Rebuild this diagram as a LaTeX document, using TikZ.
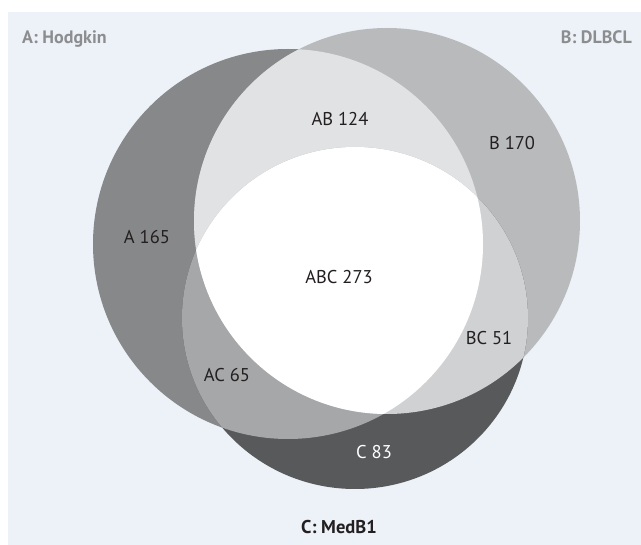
\documentclass[tikz,border=0pt]{standalone}
\usepackage{fontspec}
\setmainfont{PT Sans}
\definecolor{bg}{HTML}{EDF1F8}
\definecolor{cA}{HTML}{87888A}
\definecolor{cB}{HTML}{B9BABC}
\definecolor{cC}{HTML}{58595B}
\definecolor{cAB}{HTML}{E1E2E4}
\definecolor{cAC}{HTML}{A6A7A9}
\definecolor{cBC}{HTML}{D0D1D3}
\definecolor{txt}{HTML}{231F20}
\definecolor{hdrgray}{HTML}{8C8D8F}
\begin{document}
\begin{tikzpicture}[x=1pt,y=-1pt,
  lbl/.style={font=\fontsize{18.5}{20}\selectfont, text=txt, inner sep=0pt, anchor=base},
  hdr/.style={font=\fontsize{18}{20}\selectfont\bfseries, inner sep=0pt}]
\useasboundingbox (0,0) rectangle (641,545);
\fill[white] (0,0) rectangle (641,545);
\fill[bg] (8,12) rectangle (641,545);
% single sets
\fill[cA] (288,244) circle[radius=195];
\fill[cB] (387,221) circle[radius=193];
\fill[cC] (355,318) ellipse[x radius=173, y radius=171];
% pairwise
\begin{scope}
  \clip (288,244) circle[radius=195];
  \fill[cAB] (387,221) circle[radius=193];
\end{scope}
\begin{scope}
  \clip (288,244) circle[radius=195];
  \fill[cAC] (355,318) ellipse[x radius=173, y radius=171];
\end{scope}
\begin{scope}
  \clip (387,221) circle[radius=193];
  \fill[cBC] (355,318) ellipse[x radius=173, y radius=171];
\end{scope}
% triple
\begin{scope}
  \clip (288,244) circle[radius=195];
  \clip (387,221) circle[radius=193];
  \fill[white] (355,318) ellipse[x radius=173, y radius=171];
\end{scope}
% labels
\node[hdr, text=hdrgray, anchor=base west] (hA) at (22,44) {A: Hodgkin};
\node[hdr, text=hdrgray, anchor=base east] (hB) at (632,44) {B: DLBCL};
\node[hdr, text=txt, anchor=base, font=\fontsize{18.5}{20}\selectfont\bfseries] (hC) at (339,534) {C: MedB1};
\node[lbl] (nAB) at (340,126) {AB 124};
\node[lbl] (nB) at (512,150) {B 170};
\node[lbl] (nA) at (147,244) {A 165};
\node[lbl] (nABC) at (339,284) {ABC 273};
\node[lbl] (nBC) at (489,345) {BC 51};
\node[lbl] (nAC) at (227,382) {AC 65};
\node[lbl, text=white] (nC) at (374,459) {C 83};
\end{tikzpicture}
\end{document}
